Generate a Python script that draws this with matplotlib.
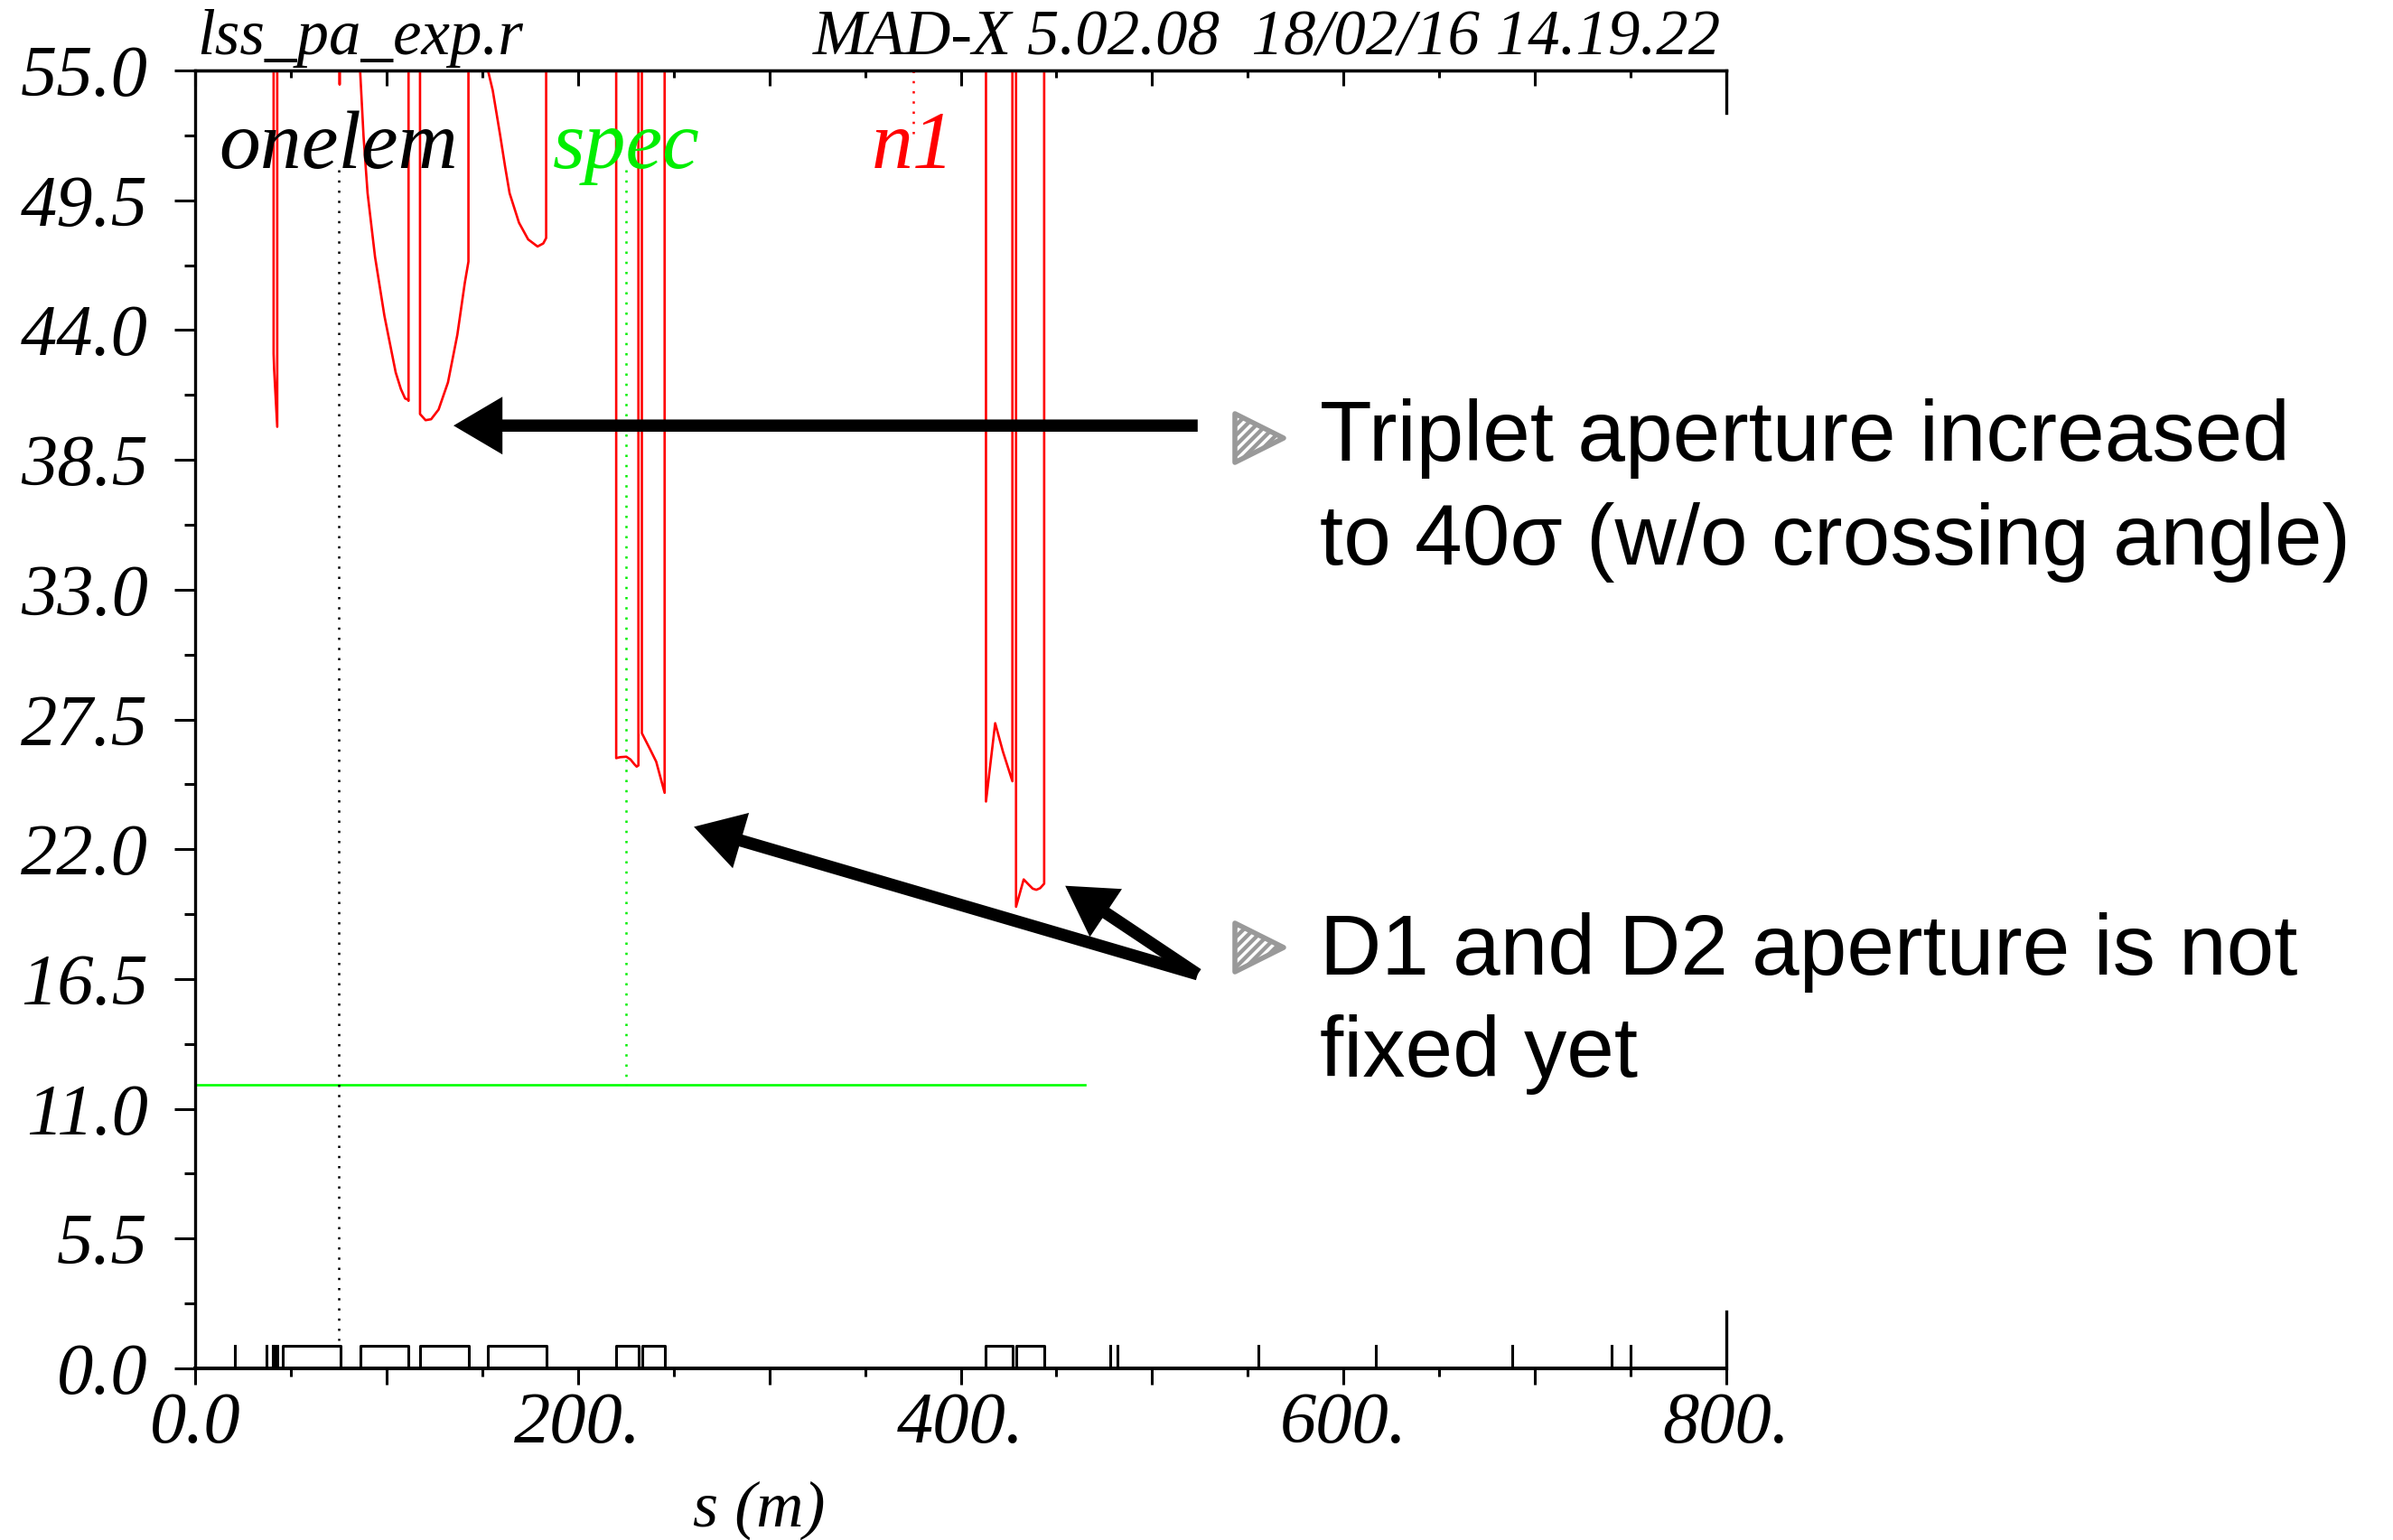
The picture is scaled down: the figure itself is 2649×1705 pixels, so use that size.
import numpy as np
import matplotlib
matplotlib.use('Agg')
import matplotlib.pyplot as plt
from matplotlib.patches import Polygon
from matplotlib.ticker import FixedLocator, FixedFormatter, MultipleLocator

plt.rcParams['font.family'] = 'Liberation Serif'
plt.rcParams['font.style'] = 'italic'
plt.rcParams['hatch.linewidth'] = 2.5
plt.rcParams['hatch.color'] = 'white'

# --- n1 aperture curve (values above 55 are clipped by the frame) ---
n1_s = [41.0, 41.0, 41.3, 42.9, 42.9,
        75.3, 75.5, 75.7,
        85.8, 86.2, 88.0, 90.1, 94.0, 98.9, 104.8, 107.5, 109.7, 111.2, 111.5, 111.5,
        117.5, 117.5, 120.4, 123.3, 127.2, 132.1, 137.0, 140.9, 142.8, 142.8,
        152.5, 153.0, 155.5, 159.4, 162.0, 164.3, 169.2, 174.0, 178.9, 181.9, 183.4, 183.4,
        220.0, 220.0, 222.0, 225.3, 227.5, 229.5, 230.7, 231.6, 231.6,
        233.4, 233.4, 237.8, 240.9, 245.3, 245.3,
        413.2, 413.2, 418.0, 422.0, 427.0, 427.0,
        428.9, 428.9, 432.9, 435.5, 437.6, 439.5, 441.5, 443.6, 443.6,
        465.0]
n1_v = [70.0, 43.0, 42.3, 39.9, 70.0,
        70.0, 54.4, 70.0,
        70.0, 55.0, 52.2, 49.8, 47.1, 44.6, 42.2, 41.5, 41.1, 41.05, 41.0, 70.0,
        70.0, 40.44, 40.18, 40.22, 40.63, 41.78, 43.8, 46.0, 46.9, 70.0,
        57.0, 55.0, 54.15, 52.24, 50.9, 49.8, 48.55, 47.84, 47.54, 47.67, 47.9, 70.0,
        70.0, 25.86, 25.9, 25.92, 25.8, 25.6, 25.5, 25.55, 70.0,
        70.0, 26.92, 26.22, 25.71, 24.39, 70.0,
        70.0, 24.02, 27.34, 26.15, 24.88, 70.0,
        70.0, 19.56, 20.72, 20.5, 20.33, 20.28, 20.35, 20.54, 70.0,
        70.0]

# --- spec line ---
spec_s = [0.0, 465.0]
spec_v = [12.0, 12.0]

# --- machine layout (element boxes and thin elements) ---
box_start = [45.7, 86.2, 117.5, 153.0, 220.0, 233.4, 413.2, 428.9]
box_end = [76.0, 111.6, 142.8, 183.4, 231.6, 245.3, 427.0, 443.6]
thin_s = [20.9, 37.3, 40.5, 41.6, 43.0, 478.3, 481.9, 555.7, 616.8, 688.1, 740.2, 750.1]
elem_h = 0.95

# --- curve labels with dotted markers ---
label_names = ['onelem', 'spec', 'n1']
label_s = [75.0, 225.3, 375.2]
label_colors = ['black', '#00ee00', '#ff0000']
dot_top = [50.8, 50.8, 55.0]
dot_bot = [1.2, 12.0, 52.1]

# --- axis ticks ---
ytick_vals = [0.0, 5.5, 11.0, 16.5, 22.0, 27.5, 33.0, 38.5, 44.0, 49.5, 55.0]
ytick_labels = ['0.0', '5.5', '11.0', '16.5', '22.0', '27.5', '33.0', '38.5', '44.0', '49.5', '55.0']
xtick_vals = [0, 100, 200, 300, 400, 500, 600, 700, 800]
xtick_labels = ['0.0', '', '200.', '', '400.', '', '600.', '', '800.']

W, H = 2649, 1705
fig = plt.figure(figsize=(W / 100, H / 100), dpi=100)
ax = fig.add_axes([216 / W, 1 - 1515 / H, (1911 - 216) / W, (1515 - 78) / H])
ax.set_xlim(0, 800)
ax.set_ylim(0, 55)

# curves
ax.plot(n1_s, n1_v, color='#ff0000', lw=1.9)
ax.plot(spec_s, spec_v, color='#00ff00', lw=1.9)

# layout
for s0, s1 in zip(box_start, box_end):
    ax.plot([s0, s0, s1, s1], [0, elem_h, elem_h, 0], color='black', lw=2.2)
for s in thin_s:
    ax.plot([s, s], [0, elem_h], color='black', lw=2.2)

# labels and dotted lines
for name, s, c, yt, yb in zip(label_names, label_s, label_colors, dot_top, dot_bot):
    ax.plot([s, s], [yt, yb], color=c, lw=1.8, ls=(0, (1, 3.5)))
    ax.text(s, 50.85, name, color=c, fontsize=66, ha='center', va='baseline')

# frame
for side in ['left', 'top']:
    ax.spines[side].set_linewidth(2.4)
ax.spines['bottom'].set_linewidth(2.9)
ax.spines['right'].set_visible(False)
ax.plot([800, 800], [55, 53.2], color='black', lw=2.4, clip_on=False)
ax.plot([800, 800], [2.4, 0], color='black', lw=2.4, clip_on=False)

ax.yaxis.set_major_locator(FixedLocator(ytick_vals))
ax.yaxis.set_major_formatter(FixedFormatter(ytick_labels))
ax.yaxis.set_minor_locator(MultipleLocator(2.75))
ax.xaxis.set_major_locator(FixedLocator(xtick_vals))
ax.xaxis.set_major_formatter(FixedFormatter(xtick_labels))
ax.xaxis.set_minor_locator(MultipleLocator(50))

ax.tick_params(axis='y', which='major', direction='out', length=16.6, width=2.2,
               labelsize=58, pad=21)
ax.tick_params(axis='y', which='minor', direction='out', length=8.6, width=2.2)
ax.tick_params(axis='x', which='major', direction='out', length=13, width=2.2,
               labelsize=58, pad=6)
ax.tick_params(axis='x', which='minor', direction='out', length=6.5, width=2.2)

top = ax.secondary_xaxis('top')
top.xaxis.set_major_locator(FixedLocator(xtick_vals))
top.xaxis.set_minor_locator(MultipleLocator(50))
top.tick_params(which='major', direction='in', length=12.5, width=2.2, labeltop=False)
top.tick_params(which='minor', direction='in', length=6, width=2.2)
top.spines['top'].set_linewidth(2.4)

# header and axis title
fig.text(218 / W, 1 - 60 / H, 'lss_pa_exp.r', fontsize=51, va='baseline')
fig.text(1905 / W, 1 - 60 / H, 'MAD-X 5.02.08  18/02/16 14.19.22', fontsize=51,
         ha='right', va='baseline')
fig.text(840 / W, 1 - 1672 / H, 's (m)', fontsize=52, ha='center', va='center')

# annotation arrows
arrow_style = 'simple,head_length=0.78,head_width=0.92,tail_width=0.195'
arrows = [((135.0, 39.95), (523.8, 39.95)),
          ((260.6, 22.95), (523.8, 16.7)),
          ((454.6, 20.45), (523.8, 16.7))]
for tip, start in arrows:
    ax.annotate('', xy=tip, xytext=start, annotation_clip=False,
                arrowprops=dict(arrowstyle=arrow_style, mutation_scale=50,
                                color='black', lw=0, shrinkA=0, shrinkB=0))

# annotation text with bullets
sans = 'Liberation Sans'
fig.text(1461 / W, 1 - 510 / H, 'Triplet aperture increased', fontsize=68,
         family=sans, style='normal', va='baseline')
fig.text(1461 / W, 1 - 625 / H, 'to 40σ (w/o crossing angle)', fontsize=68,
         family=sans, style='normal', va='baseline')
fig.text(1461 / W, 1 - 1079 / H, 'D1 and D2 aperture is not', fontsize=68,
         family=sans, style='normal', va='baseline')
fig.text(1461 / W, 1 - 1192 / H, 'fixed yet', fontsize=68,
         family=sans, style='normal', va='baseline')

for yc in [485, 1049]:
    pts = [(1367 / W, 1 - (yc - 27) / H), (1367 / W, 1 - (yc + 27) / H), (1421 / W, 1 - yc / H)]
    fig.patches.append(Polygon(pts, closed=True, transform=fig.transFigure,
                               facecolor='#999999', edgecolor='white', hatch='///', lw=0))
    fig.patches.append(Polygon(pts, closed=True, transform=fig.transFigure, fill=False,
                               edgecolor='#999999', lw=4, joinstyle='round'))

fig.savefig('out.png', dpi=100)
